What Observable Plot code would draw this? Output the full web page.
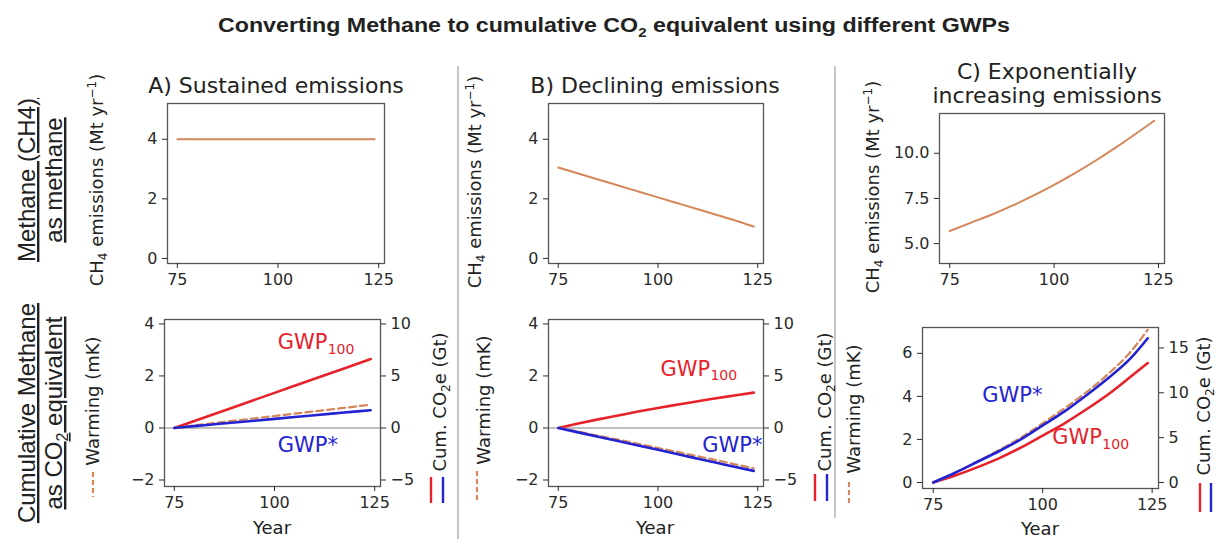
<!DOCTYPE html>
<html>
<head>
<meta charset="utf-8">
<script src="https://cdn.jsdelivr.net/npm/d3@7"></script>
<script src="https://cdn.jsdelivr.net/npm/@observablehq/plot@0.6"></script>
<style>
  html, body { margin: 0; padding: 0; background: #fff; }
  #root { position: relative; width: 1217px; height: 539px; overflow: hidden; background: #fff; }
  #root > svg.panel { position: absolute; overflow: visible; }
  #overlay { position: absolute; left: 0; top: 0; pointer-events: none; }
  .dv { font-family: "DejaVu Sans", sans-serif; fill: #222; }
  .ar { font-family: "Liberation Sans", Arial, sans-serif; fill: #222; }
</style>
</head>
<body>
<div id="root"></div>
<script>
// ---------------- data ----------------
const years = [75, 80, 85, 90, 95, 100, 105, 110, 115, 120, 124];

// top row: CH4 emissions (Mt/yr)
const emisA = [4, 4, 4, 4, 4, 4, 4, 4, 4, 4, 4];
const emisB = [3.05, 2.85, 2.65, 2.45, 2.25, 2.05, 1.85, 1.65, 1.45, 1.25, 1.07];
const emisC = [5.7, 6.15, 6.6, 7.1, 7.65, 8.25, 8.9, 9.6, 10.35, 11.15, 11.8];

// bottom row (left-axis units, mK)
const gwp100A = [0, 0.27, 0.54, 0.81, 1.08, 1.35, 1.62, 1.89, 2.16, 2.43, 2.65];
const warmA   = [0, 0.1, 0.19, 0.28, 0.37, 0.46, 0.55, 0.64, 0.73, 0.82, 0.9];
const gwpStarA= [0, 0.07, 0.14, 0.21, 0.28, 0.35, 0.42, 0.49, 0.56, 0.63, 0.68];

const gwp100B = [0, 0.17, 0.33, 0.48, 0.63, 0.77, 0.9, 1.03, 1.15, 1.27, 1.36];
const warmB   = [0, -0.14, -0.3, -0.45, -0.61, -0.77, -0.93, -1.09, -1.25, -1.42, -1.55];
const gwpStarB= [0, -0.17, -0.34, -0.5, -0.67, -0.84, -1.01, -1.18, -1.35, -1.52, -1.65];

const gwp100C = [0, 0.32, 0.7, 1.12, 1.62, 2.18, 2.75, 3.4, 4.1, 4.9, 5.55];
const warmC   = [0, 0.45, 0.97, 1.5, 2.08, 2.75, 3.45, 4.2, 5.05, 6.05, 7.1];
const gwpStarC= [0, 0.45, 0.95, 1.45, 2.0, 2.65, 3.3, 4.05, 4.85, 5.75, 6.7];

// tick labels
const xTicks = [75, 100, 125];
const yTicksTopAB = [0, 2, 4];
const yTicksTopC = [5, 7.5, 10];
const yTicksBotAB = [-2, 0, 2, 4];
const yTicksBotC = [0, 2, 4, 6];
const rightTicksAB = [-5, 0, 5, 10];
const rightTicksC = [0, 5, 10, 15];
const ratioAB = 2.5;   // Gt CO2e per mK
const ratioC = 2.4;

// text
const titleText = "Converting Methane to cumulative CO";
const panelTitles = ["A) Sustained emissions", "B) Declining emissions", "C) Exponentially", "increasing emissions"];
const rowLabels1 = ["Methane (CH4)", "as methane"];
const rowLabels2 = ["Cumulative Methane", "as CO", "2", " equivalent"];
const gwpLabelsA = [{x: 100.8, y: 3.3, text: "GWP"}];
const gwpStarLabA = [{x: 100.8, y: -0.67, text: "GWP*"}];
const gwpLabelsB = [{x: 100.6, y: 2.27, text: "GWP"}];
const gwpStarLabB = [{x: 111.1, y: -0.67, text: "GWP*"}];
const gwpLabelsC = [{x: 102.2, y: 2.09, text: "GWP"}];
const gwpStarLabC = [{x: 86.2, y: 4.05, text: "GWP*"}];

// ---------------- styles ----------------
const ORANGE = "#d4875a";
const RED = "#e6222a";
const BLUE = "#2323d2";
const FRAME = "#555";

const root = document.getElementById("root");
const ML = 50, MR = 50, MT = 14, MB = 32;

const minus = v => (v < 0 ? "\u2212" + Math.abs(v) : String(v));

function series(vals) { return years.map((y, i) => ({year: y, v: vals[i]})); }

function panel({L, T, W, H, ydom, yticks, yfmt, right, ratio, marks}) {
  const axes = [
    Plot.frame({stroke: FRAME, strokeWidth: 1.3}),
    Plot.axisX({ticks: xTicks, tickSize: 5, tickPadding: 5, fontSize: 16, label: null, tickFormat: d => String(d)}),
    Plot.axisY({ticks: yticks, tickSize: 5, tickPadding: 5, fontSize: 16, label: null, tickFormat: yfmt || minus})
  ];
  if (right) {
    axes.push(Plot.axisY({anchor: "right", ticks: right.map(v => v / ratio), tickSize: 5, tickPadding: 5,
      fontSize: 16, label: null, tickFormat: d => minus(Math.round(d * ratio))}));
  }
  const svg = Plot.plot({
    width: W + ML + MR, height: H + MT + MB,
    marginLeft: ML, marginRight: MR, marginTop: MT, marginBottom: MB,
    x: {domain: [72.55, 126.45], label: null},
    y: {domain: ydom, label: null},
    style: {fontFamily: "DejaVu Sans, sans-serif", color: "#2a2a2a", background: "transparent", overflow: "visible"},
    marks: [...marks, ...axes]
  });
  svg.classList.add("panel");
  svg.style.left = (L - ML) + "px";
  svg.style.top = (T - MT) + "px";
  root.appendChild(svg);
}

function lineMark(vals, stroke, w, dash) {
  return Plot.line(series(vals), {x: "year", y: "v", stroke, strokeWidth: w, strokeDasharray: dash, curve: "monotone-x"});
}
function gwpLabel(data, color) {
  return [
    Plot.text(data, {x: "x", y: "y", text: "text", textAnchor: "start", fill: color, fontSize: 21}),
    Plot.text(data, {x: "x", y: "y", text: () => "100", textAnchor: "start", fill: color, fontSize: 14, dx: 50, dy: 7})
  ];
}
function starLabel(data, color) {
  return Plot.text(data, {x: "x", y: "y", text: "text", textAnchor: "start", fill: color, fontSize: 21});
}

// ---------------- top row ----------------
panel({L: 167, T: 103, W: 217, H: 160, ydom: [-0.17, 5.2], yticks: yTicksTopAB,
  marks: [lineMark(emisA, ORANGE, 2)]});
panel({L: 548, T: 103, W: 215, H: 160, ydom: [-0.17, 5.2], yticks: yTicksTopAB,
  marks: [lineMark(emisB, ORANGE, 2)]});
panel({L: 939, T: 113, W: 225, H: 150, ydom: [3.9, 12.2], yticks: yTicksTopC, yfmt: d3.format(".1f"),
  marks: [lineMark(emisC, ORANGE, 2)]});

// ---------------- bottom row ----------------
panel({L: 164, T: 319, W: 216, H: 167, ydom: [-2.25, 4.17], yticks: yTicksBotAB, right: rightTicksAB, ratio: ratioAB,
  marks: [Plot.ruleY([0], {stroke: "#aaa", strokeWidth: 1.5}),
    lineMark(gwp100A, RED, 2.6), lineMark(warmA, ORANGE, 2.2, "7,4"), lineMark(gwpStarA, BLUE, 2.6),
    ...gwpLabel(gwpLabelsA, RED), starLabel(gwpStarLabA, BLUE)]});
panel({L: 548, T: 319, W: 215, H: 167, ydom: [-2.25, 4.17], yticks: yTicksBotAB, right: rightTicksAB, ratio: ratioAB,
  marks: [Plot.ruleY([0], {stroke: "#aaa", strokeWidth: 1.5}),
    lineMark(gwp100B, RED, 2.6), lineMark(warmB, ORANGE, 2.2, "7,4"), lineMark(gwpStarB, BLUE, 2.6),
    ...gwpLabel(gwpLabelsB, RED), starLabel(gwpStarLabB, BLUE)]});
panel({L: 922, T: 327, W: 236, H: 161, ydom: [-0.28, 7.2], yticks: yTicksBotC, right: rightTicksC, ratio: ratioC,
  marks: [lineMark(gwp100C, RED, 2.6), lineMark(warmC, ORANGE, 2.2, "7,4"), lineMark(gwpStarC, BLUE, 2.6),
    ...gwpLabel(gwpLabelsC, RED), starLabel(gwpStarLabC, BLUE)]});

// ---------------- overlay text ----------------
const NS = "http://www.w3.org/2000/svg";
const ov = document.createElementNS(NS, "svg");
ov.setAttribute("id", "overlay");
ov.setAttribute("width", 1217);
ov.setAttribute("height", 539);
root.appendChild(ov);

function el(tag, attrs, parent = ov) {
  const e = document.createElementNS(NS, tag);
  for (const k in attrs) e.setAttribute(k, attrs[k]);
  parent.appendChild(e);
  return e;
}
function txt(x, y, parts, cls, size, opts = {}) {
  const t = el("text", Object.assign({x, y, class: cls, "font-size": size, "text-anchor": opts.anchor || "middle"},
    opts.rotate ? {transform: `rotate(-90 ${x} ${y})`} : {}, opts.attrs || {}));
  for (const p of parts) {
    const s = el("tspan", {}, t);
    s.textContent = p.t;
    if (p.size) s.setAttribute("font-size", p.size);
    if (p.dy) s.setAttribute("dy", p.dy);
  }
  return t;
}

// separators
el("line", {x1: 458, x2: 458, y1: 66, y2: 539, stroke: "#c4c4c4", "stroke-width": 2});
el("line", {x1: 835, x2: 835, y1: 66, y2: 518, stroke: "#c4c4c4", "stroke-width": 2});

// title
txt(614, 32, [{t: titleText}, {t: "2", size: 13, dy: 5}, {t: " equivalent using different GWPs", size: 20, dy: -5}],
  "ar", 20, {attrs: {"font-weight": "bold", fill: "#000", textLength: 792, lengthAdjust: "spacingAndGlyphs"}});

// panel titles
txt(276, 93, [{t: panelTitles[0]}], "dv", 22);
txt(655, 93, [{t: panelTitles[1]}], "dv", 22);
txt(1047, 79, [{t: panelTitles[2]}], "dv", 22);
txt(1047, 103, [{t: panelTitles[3]}], "dv", 22);

// row labels
txt(35, 180, [{t: rowLabels1[0]}], "ar", 24, {rotate: true, attrs: {"text-decoration": "underline"}});
txt(62, 180, [{t: rowLabels1[1]}], "ar", 24, {rotate: true, attrs: {"text-decoration": "underline"}});
txt(35, 413, [{t: rowLabels2[0]}], "ar", 24, {rotate: true, attrs: {"text-decoration": "underline"}});
txt(62, 413, [{t: rowLabels2[1]}, {t: rowLabels2[2], size: 16, dy: 6}, {t: rowLabels2[3], size: 24, dy: -6}], "ar", 24,
  {rotate: true, attrs: {"text-decoration": "underline"}});

// CH4 y-axis labels
function ch4Label(x, y) {
  txt(x, y, [{t: "CH"}, {t: "4", size: 12, dy: 4}, {t: " emissions (Mt yr", size: 18, dy: -4},
    {t: "\u22121", size: 12, dy: -7}, {t: ")", size: 18, dy: 7}], "dv", 18, {rotate: true});
}
ch4Label(103, 180);
ch4Label(481, 182);
ch4Label(879, 187);

// warming labels with dashed handles
function warmLabel(x, y, hx, hy1, hy2) {
  txt(x, y, [{t: "Warming (mK)"}], "dv", 18, {rotate: true});
  el("line", {x1: hx, x2: hx, y1: hy1, y2: hy2, stroke: ORANGE, "stroke-width": 2.2, "stroke-dasharray": "5,3"});
}
warmLabel(99, 401, 93, 472, 497);
warmLabel(490, 400, 477, 471, 503);
warmLabel(860, 409, 849, 482, 506);

// cumulative CO2e labels with red/blue handles
function cumLabel(x, y, rx, bx, hy1, hy2) {
  txt(x, y, [{t: "Cum. CO"}, {t: "2", size: 12, dy: 4}, {t: "e (Gt)", size: 18, dy: -4}], "dv", 18, {rotate: true});
  el("line", {x1: rx, x2: rx, y1: hy1, y2: hy2, stroke: RED, "stroke-width": 2.4});
  el("line", {x1: bx, x2: bx, y1: hy1, y2: hy2, stroke: BLUE, "stroke-width": 2.4});
}
cumLabel(446, 402, 431, 443, 477, 503);
cumLabel(831, 402, 815, 827, 474, 501);
cumLabel(1210, 406, 1200, 1211, 483, 512);

// Year labels
txt(272, 534, [{t: "Year"}], "dv", 18);
txt(655, 534, [{t: "Year"}], "dv", 18);
txt(1040, 535, [{t: "Year"}], "dv", 18);
</script>
</body>
</html>
